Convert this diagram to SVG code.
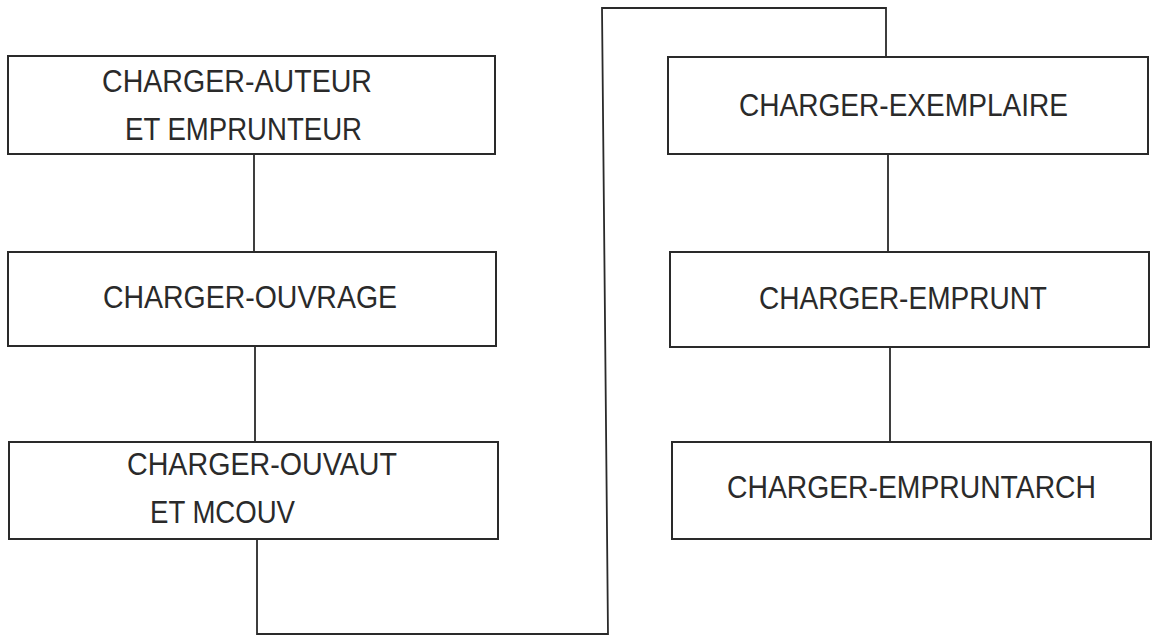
<svg xmlns="http://www.w3.org/2000/svg" width="1153" height="637" viewBox="0 0 1153 637">
<style>
.box{fill:none;stroke:#2a2a2a;stroke-width:2}
.lbl{font-family:"Liberation Sans","DejaVu Sans",sans-serif;font-size:31px;fill:#2a2a2a}
.conn{fill:none;stroke:#2a2a2a;stroke-width:1.8}
</style>
<rect width="1153" height="637" fill="#ffffff"/>
<g id="connectors">
<line class="conn" x1="254" y1="154" x2="254" y2="252"/>
<line class="conn" x1="255" y1="346" x2="255" y2="442"/>
<polyline class="conn" points="257,539 257,634 608,634 602,8 886,8 886,57"/>
<line class="conn" x1="888" y1="154" x2="888" y2="252"/>
<line class="conn" x1="890" y1="347" x2="890" y2="442"/>
</g>
<g id="n1">
<rect class="box" x="8" y="56" width="487" height="98"/>
<text class="lbl" x="102" y="92" textLength="270" lengthAdjust="spacingAndGlyphs">CHARGER-AUTEUR</text>
<text class="lbl" x="125" y="140" textLength="237" lengthAdjust="spacingAndGlyphs">ET EMPRUNTEUR</text>
</g>
<g id="n2">
<rect class="box" x="8" y="252" width="488" height="94"/>
<text class="lbl" x="103" y="308" textLength="294" lengthAdjust="spacingAndGlyphs">CHARGER-OUVRAGE</text>
</g>
<g id="n3">
<rect class="box" x="9" y="442" width="489" height="97"/>
<text class="lbl" x="127" y="475" textLength="270" lengthAdjust="spacingAndGlyphs">CHARGER-OUVAUT</text>
<text class="lbl" x="150" y="523" textLength="145" lengthAdjust="spacingAndGlyphs">ET MCOUV</text>
</g>
<g id="n4">
<rect class="box" x="668" y="57" width="480" height="97"/>
<text class="lbl" x="739" y="116" textLength="329" lengthAdjust="spacingAndGlyphs">CHARGER-EXEMPLAIRE</text>
</g>
<g id="n5">
<rect class="box" x="670" y="252" width="479" height="95"/>
<text class="lbl" x="759" y="309" textLength="288" lengthAdjust="spacingAndGlyphs">CHARGER-EMPRUNT</text>
</g>
<g id="n6">
<rect class="box" x="672" y="442" width="479" height="97"/>
<text class="lbl" x="727" y="498" textLength="369" lengthAdjust="spacingAndGlyphs">CHARGER-EMPRUNTARCH</text>
</g>
</svg>
